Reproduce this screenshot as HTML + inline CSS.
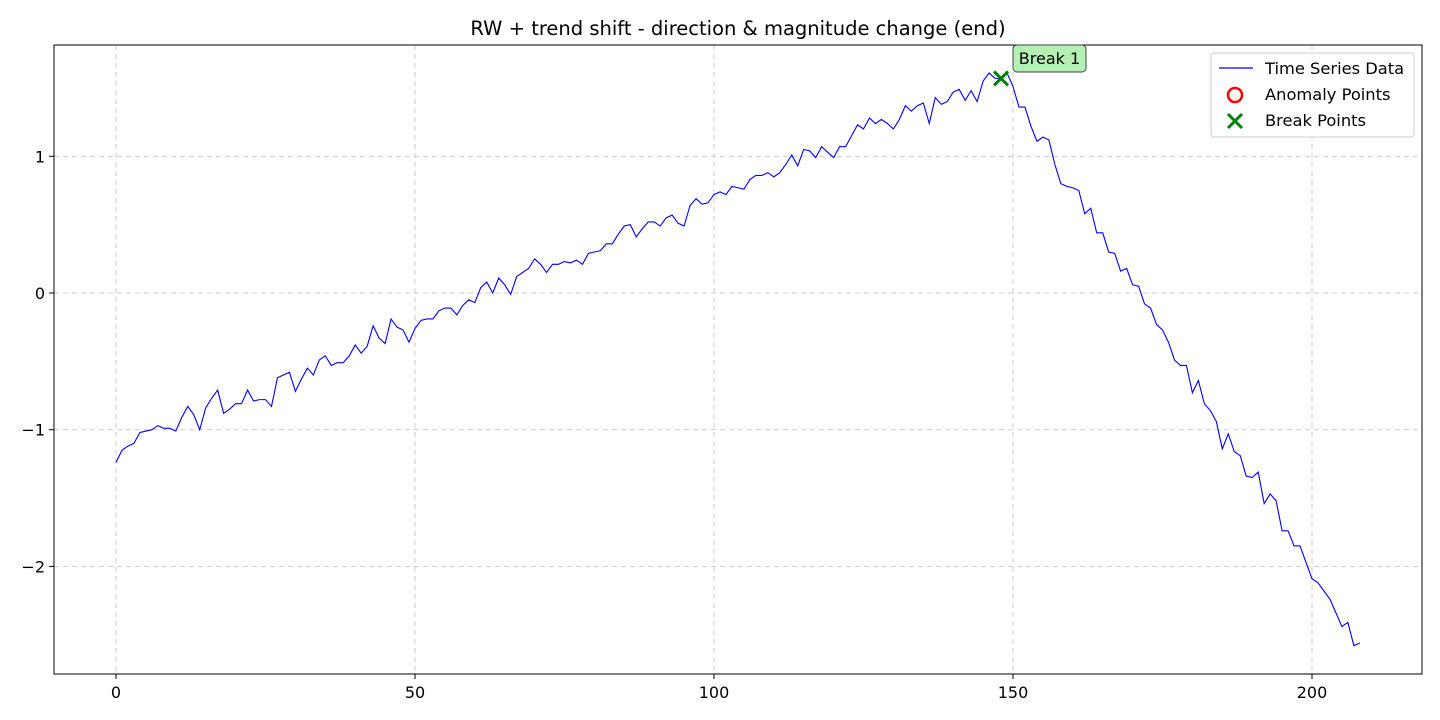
<!DOCTYPE html>
<html><head><meta charset="utf-8"><style>
body{margin:0;background:#fff;}
svg{display:block;font-family:"DejaVu Sans","Liberation Sans",sans-serif;}
</style></head><body>
<svg id="chart" width="1440" height="720">
<rect width="1440" height="720" fill="#fff"/>
<text x="738" y="35" text-anchor="middle" font-size="19.5">RW + trend shift - direction &amp; magnitude change (end)</text>
<g id="grid"></g>
<g id="series"></g>
<rect x="54" y="45" width="1368" height="629" fill="none" stroke="#000" stroke-width="1"/>
<g id="ticks"></g>
<g>
<rect x="1013" y="45" width="73" height="27" rx="4" fill="#b3f0b3" stroke="#444" stroke-width="1"/>
<text x="1049.5" y="64" text-anchor="middle" font-size="16">Break 1</text>
</g>
<g>
<rect x="1211" y="53" width="203" height="84" rx="3" fill="#fff" fill-opacity="0.85" stroke="#ccc"/>
<line x1="1219" y1="68" x2="1253" y2="68" stroke="#0000ff" stroke-width="1.3"/>
<text x="1265" y="74" font-size="16.3">Time Series Data</text>
<circle cx="1235" cy="95" r="7" fill="none" stroke="red" stroke-width="2.5"/>
<text x="1265" y="100" font-size="16.3">Anomaly Points</text>
<path d="M1228 114 L1242 128 M1242 114 L1228 128" stroke="green" stroke-width="3"/>
<text x="1265" y="126" font-size="16.3">Break Points</text>
</g>
</svg>
<script>
const values=[-1.24,-1.15,-1.12,-1.10,-1.02,-1.01,-1.00,-0.97,-0.99,-0.99,-1.01,-0.91,-0.83,-0.89,-1.00,-0.84,-0.77,-0.71,-0.88,-0.85,-0.81,-0.81,-0.71,-0.79,-0.78,-0.78,-0.83,-0.62,-0.60,-0.58,-0.72,-0.63,-0.55,-0.60,-0.49,-0.46,-0.53,-0.51,-0.51,-0.46,-0.38,-0.44,-0.39,-0.24,-0.33,-0.37,-0.19,-0.25,-0.27,-0.36,-0.26,-0.20,-0.19,-0.19,-0.13,-0.11,-0.11,-0.16,-0.09,-0.05,-0.07,0.04,0.08,0.00,0.11,0.06,-0.01,0.12,0.15,0.18,0.25,0.21,0.15,0.21,0.21,0.23,0.22,0.24,0.21,0.29,0.30,0.31,0.36,0.36,0.43,0.49,0.50,0.41,0.47,0.52,0.52,0.49,0.55,0.57,0.51,0.49,0.64,0.69,0.65,0.66,0.72,0.74,0.72,0.78,0.77,0.76,0.83,0.86,0.86,0.88,0.85,0.88,0.94,1.01,0.93,1.05,1.04,0.99,1.07,1.03,0.99,1.07,1.07,1.15,1.23,1.20,1.28,1.24,1.27,1.24,1.20,1.27,1.37,1.33,1.37,1.39,1.24,1.43,1.38,1.40,1.47,1.49,1.41,1.48,1.40,1.55,1.61,1.57,1.57,1.61,1.51,1.36,1.36,1.22,1.11,1.14,1.12,0.94,0.80,0.78,0.77,0.75,0.58,0.62,0.44,0.44,0.30,0.29,0.16,0.18,0.06,0.05,-0.08,-0.11,-0.23,-0.27,-0.36,-0.49,-0.53,-0.53,-0.73,-0.64,-0.81,-0.86,-0.94,-1.14,-1.03,-1.16,-1.19,-1.34,-1.35,-1.31,-1.54,-1.47,-1.52,-1.74,-1.74,-1.85,-1.85,-1.97,-2.09,-2.12,-2.18,-2.24,-2.34,-2.44,-2.41,-2.58,-2.56];
const breakIdx=[148];
const xTicks=[0,50,100,150,200];
const yTicks=[1,0,-1,-2];
const yTickLabels=["1","0","\u22121","\u22122"];
const NS="http://www.w3.org/2000/svg";
const X=v=>116+v*5.98;
const Y=v=>293-v*136.7;
function mk(t,a,p){const e=document.createElementNS(NS,t);for(const k in a)e.setAttribute(k,a[k]);p.appendChild(e);return e;}
const grid=document.getElementById('grid'),ticks=document.getElementById('ticks'),series=document.getElementById('series');
xTicks.forEach(t=>{
 const g=mk('line',{x1:X(t),x2:X(t),y1:45,y2:674,stroke:'#ccc','stroke-dasharray':'5,4'},grid);
 
 
 const tk=mk('line',{x1:X(t),x2:X(t),y1:674,y2:679,stroke:'#000'},ticks);
 
 
 const tx=mk('text',{x:X(t),y:698,'text-anchor':'middle','font-size':'16'},ticks);
 tx.textContent=t;
 
 
});
yTicks.forEach((t,i)=>{
 const g=mk('line',{x1:54,x2:1422,y1:Y(t),y2:Y(t),stroke:'#ccc','stroke-dasharray':'5,4'},grid);
 
 
 const tk=mk('line',{x1:49,x2:54,y1:Y(t),y2:Y(t),stroke:'#000'},ticks);
 
 
 const tx=mk('text',{x:45,y:Y(t)+6,'text-anchor':'end','font-size':'16'},ticks);
 tx.textContent=yTickLabels[i];
 
 
});
const pl=mk('polyline',{points:values.map((v,i)=>X(i)+','+Y(v)).join(' '),fill:'none',stroke:'#0000ff','stroke-width':'1.1'},series);


breakIdx.forEach(i=>{
 const cx=X(i),cy=Y(values[i]);
 const m=mk('path',{d:`M${cx-7} ${cy-7}L${cx+7} ${cy+7}M${cx+7} ${cy-7}L${cx-7} ${cy+7}`,stroke:'green','stroke-width':'3'},series);
 
 
});
</script>
</body></html>
